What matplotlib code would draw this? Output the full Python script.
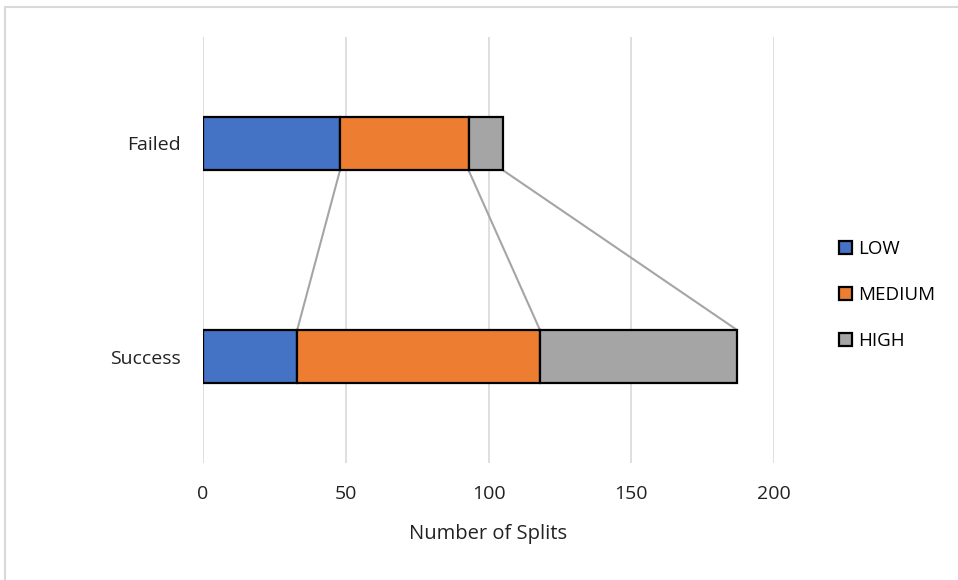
import matplotlib.pyplot as plt
import numpy as np
from matplotlib.patches import Rectangle

# data
categories = ["Success", "Failed"]
levels = ["LOW", "MEDIUM", "HIGH"]
low = [33, 48]
medium = [85, 45]
high = [69, 12]
colors = ["#4472C4", "#ED7D31", "#A5A5A5"]

plt.rcParams['font.family'] = ['Open Sans', 'DejaVu Sans']

fig = plt.figure(figsize=(9.58, 5.8), dpi=100)
ax = fig.add_axes([203 / 958, 1 - 463 / 580, 571 / 958, 426 / 580])

y = np.arange(len(categories))
h = 0.25
left = np.zeros(len(categories))
ends = []
for vals, name, c in zip([low, medium, high], levels, colors):
    ax.barh(y, vals, left=left, height=h, color=c, edgecolor="black",
            linewidth=1.6, label=name, zorder=3)
    left = left + np.array(vals)
    ends.append(left.copy())

# series lines between the two bars
for e in ends:
    ax.plot([e[1], e[0]], [1 - h / 2, h / 2], color="#A5A5A5", lw=1.5, zorder=2)

ax.set_xlim(0, 200)
ax.set_ylim(-0.5, 1.5)
ax.set_xticks([0, 50, 100, 150, 200])
ax.set_yticks(y)
ax.set_yticklabels(categories)
ax.grid(axis="x", color="#D9D9D9", lw=1.2, zorder=0)
for s in ax.spines.values():
    s.set_visible(False)
ax.tick_params(length=0, labelsize=14, colors="#222222")
ax.tick_params(axis="x", pad=16)
ax.tick_params(axis="y", pad=16)
ax.set_xlabel("Number of Splits", fontsize=14.5, color="#222222", labelpad=15)

ax.legend(loc="center left", bbox_to_anchor=(822 / 958, 1 - 295 / 580),
          bbox_transform=fig.transFigure,
          frameon=False, fontsize=13.5, handlelength=0.7, handleheight=0.7,
          handletextpad=0.3, labelspacing=1.5)

fig.patches.append(Rectangle((5 / 958, -0.01), 1.0, 1 - 7 / 580 + 0.01,
                             transform=fig.transFigure, fill=False,
                             edgecolor="#D9D9D9", lw=1.5))

fig.savefig("out.png", dpi=100)
